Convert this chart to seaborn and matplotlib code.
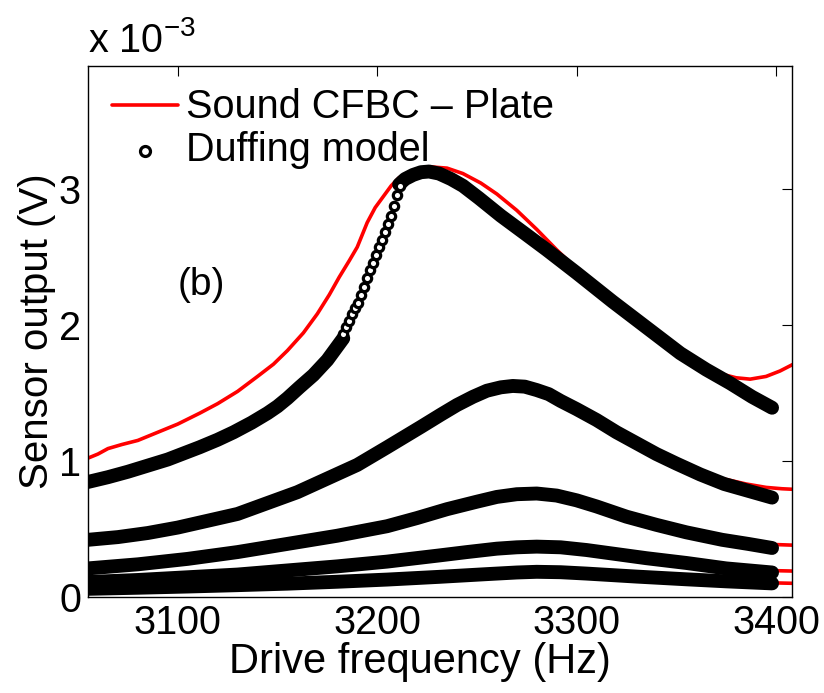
import matplotlib
matplotlib.use('Agg')
import matplotlib.pyplot as plt
import seaborn as sns

# values in units of 1e-3 V
red1_x = [3055, 3060, 3065, 3072, 3080, 3090, 3100, 3111, 3120, 3130, 3140, 3148, 3155, 3163, 3170, 3176,
          3181, 3186, 3190, 3195, 3199, 3203, 3207, 3211, 3218, 3226, 3235, 3243, 3252, 3260, 3270, 3280,
          3290, 3300, 3318, 3335, 3352, 3363, 3372, 3380, 3387, 3395, 3402, 3410]
red1_y = [1.02, 1.05, 1.09, 1.12, 1.15, 1.21, 1.27, 1.35, 1.42, 1.51, 1.62, 1.71, 1.81, 1.94, 2.08, 2.22,
          2.35, 2.47, 2.57, 2.75, 2.86, 2.94, 3.02, 3.08, 3.13, 3.16, 3.15, 3.11, 3.04, 2.96, 2.84, 2.70,
          2.55, 2.41, 2.18, 1.99, 1.81, 1.71, 1.64, 1.61, 1.60, 1.62, 1.66, 1.72]

red2_x = [3055, 3080, 3105, 3130, 3155, 3175, 3190, 3205, 3222, 3235, 3248, 3258, 3268, 3278, 3290, 3302,
          3315, 3330, 3348, 3360, 3373, 3385, 3395, 3403, 3410]
red2_y = [0.44, 0.48, 0.54, 0.63, 0.76, 0.89, 1.00, 1.13, 1.28, 1.38, 1.47, 1.51, 1.52, 1.51, 1.44, 1.35,
          1.25, 1.13, 1.00, 0.93, 0.87, 0.83, 0.805, 0.795, 0.79]

red3_x = [3055, 3105, 3155, 3205, 3231, 3250, 3265, 3280, 3295, 3307, 3325, 3348, 3373, 3390, 3400, 3410]
red3_y = [0.21, 0.29, 0.40, 0.51, 0.62, 0.69, 0.75, 0.76, 0.72, 0.66, 0.57, 0.49, 0.43, 0.395, 0.385, 0.38]

red4_x = [3055, 3105, 3155, 3205, 3231, 3255, 3280, 3305, 3330, 3355, 3375, 3395, 3410]
red4_y = [0.11, 0.15, 0.20, 0.26, 0.30, 0.35, 0.37, 0.35, 0.30, 0.25, 0.215, 0.195, 0.19]

red5_x = [3055, 3105, 3155, 3205, 3231, 3255, 3280, 3305, 3330, 3355, 3375, 3395, 3410]
red5_y = [0.06, 0.08, 0.10, 0.13, 0.15, 0.17, 0.185, 0.175, 0.15, 0.13, 0.115, 0.105, 0.10]

# Duffing model, top curve split around the jump
duf1a_x = [3055, 3065, 3075, 3085, 3095, 3103, 3111, 3120, 3128, 3137, 3145, 3150, 3155, 3161, 3168,
           3175, 3179, 3183]
duf1a_y = [0.845, 0.88, 0.92, 0.965, 1.01, 1.055, 1.10, 1.155, 1.21, 1.28, 1.35, 1.40, 1.46, 1.54, 1.63,
           1.74, 1.82, 1.90]
duf1_jump_x = [3183, 3184.5, 3186, 3187.5, 3189, 3190.5, 3192, 3193.5, 3195, 3196.5, 3198, 3199.5,
               3201, 3202.5, 3204, 3205.5, 3207, 3208.5, 3210, 3211.5]
duf1_jump_y = [1.93, 1.98, 2.03, 2.08, 2.12, 2.16, 2.22, 2.28, 2.34, 2.40, 2.45, 2.51,
               2.57, 2.62, 2.68, 2.74, 2.80, 2.87, 2.95, 3.02]
duf1b_x = [3211, 3214, 3218, 3222, 3226, 3231, 3237, 3243, 3251, 3262, 3274, 3285, 3300, 3318, 3335,
           3352, 3365, 3377, 3388, 3398]
duf1b_y = [3.03, 3.07, 3.10, 3.12, 3.125, 3.11, 3.07, 3.02, 2.93, 2.80, 2.67, 2.55, 2.38, 2.17, 1.98,
           1.79, 1.67, 1.57, 1.47, 1.39]

duf2_x = [3055, 3070, 3085, 3100, 3115, 3130, 3145, 3160, 3175, 3190, 3205, 3222, 3232, 3240, 3248, 3255,
          3262, 3268, 3274, 3280, 3286, 3292, 3300, 3310, 3320, 3330, 3340, 3350, 3362, 3374, 3386, 3398]
duf2_y = [0.42, 0.44, 0.47, 0.51, 0.56, 0.61, 0.69, 0.77, 0.87, 0.97, 1.10, 1.25, 1.34, 1.41, 1.47, 1.515,
          1.54, 1.55, 1.545, 1.52, 1.49, 1.44, 1.38, 1.30, 1.21, 1.13, 1.05, 0.98, 0.90, 0.83, 0.78, 0.73]

duf3_x = [3055, 3080, 3105, 3130, 3155, 3180, 3205, 3220, 3235, 3250, 3260, 3270, 3280, 3290, 3300, 3310,
          3325, 3340, 3355, 3373, 3386, 3398]
duf3_y = [0.21, 0.24, 0.28, 0.33, 0.39, 0.45, 0.52, 0.58, 0.645, 0.70, 0.735, 0.755, 0.76, 0.745, 0.71,
          0.665, 0.59, 0.53, 0.475, 0.42, 0.39, 0.36]

duf4_x = [3055, 3080, 3105, 3130, 3155, 3180, 3205, 3231, 3245, 3260, 3270, 3280, 3292, 3305, 3320, 3335,
          3355, 3375, 3398]
duf4_y = [0.11, 0.125, 0.145, 0.165, 0.195, 0.225, 0.26, 0.305, 0.33, 0.355, 0.365, 0.37, 0.365, 0.345,
          0.315, 0.285, 0.25, 0.21, 0.18]

duf5_x = [3055, 3080, 3105, 3130, 3155, 3180, 3205, 3231, 3255, 3270, 3280, 3292, 3305, 3330, 3355, 3375, 3398]
duf5_y = [0.06, 0.068, 0.077, 0.087, 0.098, 0.112, 0.128, 0.148, 0.168, 0.18, 0.185, 0.182, 0.172, 0.15,
          0.13, 0.115, 0.10]

sns.set_style('white')
plt.rcParams['font.family'] = ['Liberation Sans', 'DejaVu Sans']
plt.rcParams['mathtext.default'] = 'regular'
plt.rcParams['text.color'] = 'black'
plt.rcParams['axes.labelcolor'] = 'black'
plt.rcParams['xtick.color'] = 'black'
plt.rcParams['ytick.color'] = 'black'

fig = plt.figure(figsize=(8.24, 6.93), dpi=100)
ax = fig.add_axes([88 / 824, 1 - 597 / 693, (792 - 88) / 824, (597 - 66) / 693])

reds = [(red1_x, red1_y), (red2_x, red2_y), (red3_x, red3_y), (red4_x, red4_y), (red5_x, red5_y)]
for i, (xs, ys) in enumerate(reds):
    sns.lineplot(x=xs, y=ys, ax=ax, color='red', lw=2.6, sort=False, estimator=None,
                 label='Sound CFBC \u2013 Plate' if i == 0 else None, zorder=2)

bands = [(duf1a_x, duf1a_y), (duf1b_x, duf1b_y), (duf2_x, duf2_y), (duf3_x, duf3_y),
         (duf4_x, duf4_y), (duf5_x, duf5_y)]
for xs, ys in bands:
    sns.lineplot(x=xs, y=ys, ax=ax, color='black', lw=10, sort=False, estimator=None,
                 solid_capstyle='round', solid_joinstyle='round', zorder=3)

sns.scatterplot(x=duf1_jump_x, y=duf1_jump_y, ax=ax, marker='o', s=36, facecolor='white',
                edgecolor='black', linewidth=2.3, label='Duffing model', zorder=4)

ax.set_xlim(3055, 3408)
ax.set_ylim(0, 3.9)
ax.set_xticks([3100, 3200, 3300, 3400])
ax.set_yticks([0, 1, 2, 3])
ax.tick_params(direction='in', length=7, width=0.8, labelsize=28.5, top=True, right=True, pad=5)
for s in ax.spines.values():
    s.set_linewidth(1.0)
    s.set_color('black')

ax.set_xlabel('Drive frequency (Hz)', fontsize=30, labelpad=0)
ax.xaxis.set_label_coords(0.472, -0.085)
ax.set_ylabel('Sensor output (V)', fontsize=29, labelpad=2)
ax.text(0, 1.012, 'x 10$^{-3}$', transform=ax.transAxes, fontsize=28.5, ha='left', va='bottom')
ax.text(3112, 2.29, '(b)', fontsize=28, ha='center', va='center')

ax.legend(loc='upper left', bbox_to_anchor=(-0.005, 1.01), frameon=False, fontsize=28.5,
          handlelength=1.65, handletextpad=0.22, borderaxespad=0.3, borderpad=0.4,
          labelspacing=0.12, markerscale=1.2)

fig.savefig('out.png', dpi=100)
